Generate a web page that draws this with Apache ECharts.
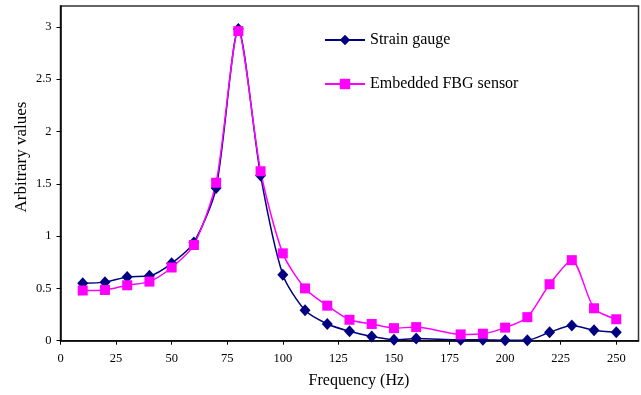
<!DOCTYPE html>
<html>
<head>
<meta charset="utf-8">
<script src="https://cdn.jsdelivr.net/npm/echarts@6/dist/echarts.min.js"></script>
<style>html,body{margin:0;padding:0;background:#fff;}#c{width:641px;height:395px;}</style>
</head>
<body>
<div id="c"></div>
<script>
const frequency = [10,20,30,40,50,60,70,80,90,100,110,120,130,140,150,160,180,190,200,210,220,230,240,250];
const strainGauge = [0.55,0.56,0.61,0.62,0.74,0.94,1.46,2.98,1.58,0.63,0.29,0.16,0.09,0.04,0.01,0.02,0.01,0.01,0.005,0.005,0.08,0.145,0.10,0.08];
const fbgSensor = [0.48,0.485,0.53,0.565,0.70,0.915,1.51,2.96,1.62,0.835,0.50,0.335,0.20,0.16,0.12,0.13,0.06,0.067,0.125,0.225,0.54,0.77,0.31,0.205];
const xTicks = {min:0, max:260, interval:25};
const yTicks = {min:0, max:3.2, interval:0.5};

const font = 'Liberation Serif';
const chart = echarts.init(document.getElementById('c'), null, {renderer:'canvas'});
const pair = (xs, ys) => xs.map((x,i)=>[x, ys[i]]);
chart.setOption({
  animation:false,
  backgroundColor:'#fff',
  grid:{left:60.5, top:6, right:2.5, bottom:54.3, show:true, borderColor:'#333', borderWidth:1.5, backgroundColor:'transparent'},
  legend:{
    orient:'vertical', left:319, top:27, itemWidth:40, itemHeight:13, itemGap:28,
    textStyle:{fontFamily:font, fontSize:16, color:'#000'},
    data:['Strain gauge','Embedded FBG sensor']
  },
  xAxis:{
    type:'value', min:xTicks.min, max:xTicks.max, interval:xTicks.interval,
    axisLine:{lineStyle:{color:'#000', width:1.5}},
    axisTick:{show:true, length:4, lineStyle:{color:'#000'}},
    splitLine:{show:false},
    axisLabel:{fontFamily:font, fontSize:12.5, color:'#000', margin:12, showMaxLabel:false}
  },
  yAxis:{
    type:'value', min:yTicks.min, max:yTicks.max, interval:yTicks.interval,
    axisLine:{show:true, lineStyle:{color:'#000', width:1.5}},
    axisTick:{show:true, length:4, lineStyle:{color:'#000'}},
    splitLine:{show:false},
    axisLabel:{fontFamily:font, fontSize:12.5, color:'#000', margin:9, showMaxLabel:false}
  },
  graphic:[
    {type:'text', x:359, y:381, style:{text:'Frequency (Hz)', font:'16px "Liberation Serif"', fill:'#000', textAlign:'center', textVerticalAlign:'middle'}},
    {type:'text', x:22, y:157, rotation:Math.PI/2, style:{text:'Arbitrary values', font:'17px "Liberation Serif"', fill:'#000', textAlign:'center', textVerticalAlign:'middle'}}
  ],
  series:[
    {name:'Strain gauge', type:'line', data:pair(frequency, strainGauge), smooth:0.25,
     symbol:'diamond', symbolSize:[11,12], itemStyle:{color:'#000080'}, lineStyle:{color:'#000080', width:1.5}},
    {name:'Embedded FBG sensor', type:'line', data:pair(frequency, fbgSensor), smooth:0.25,
     symbol:'rect', symbolSize:10, itemStyle:{color:'#FF00FF'}, lineStyle:{color:'#FF00FF', width:1.5}}
  ]
});
</script>
</body>
</html>
